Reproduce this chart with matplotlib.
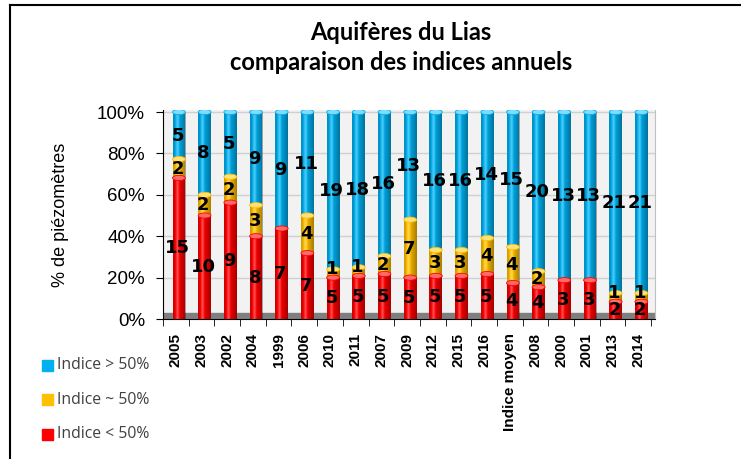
import numpy as np
import matplotlib
matplotlib.use("Agg")
import matplotlib.pyplot as plt
from matplotlib.patches import Rectangle, Ellipse
from matplotlib.lines import Line2D

# categories (sorted by share of low index) and counts of piezometers per class
annees = ["2005", "2003", "2002", "2004", "1999", "2006", "2010", "2011", "2007",
          "2009", "2012", "2015", "2016", "Indice moyen", "2008", "2000", "2001",
          "2013", "2014"]
n_bas = [15, 10, 9, 8, 7, 7, 5, 5, 5, 5, 5, 5, 5, 4, 4, 3, 3, 2, 2]
n_moyen = [2, 2, 2, 3, 0, 4, 1, 1, 2, 7, 3, 3, 4, 4, 2, 0, 0, 1, 1]
n_haut = [5, 8, 5, 9, 9, 11, 19, 18, 16, 13, 16, 16, 14, 15, 20, 13, 13, 21, 21]

series = [("Indice < 50%", n_bas, "#FF0000", "#FF6A6A"),
          ("Indice ~ 50%", n_moyen, "#FFC000", "#FFE07A"),
          ("Indice > 50%", n_haut, "#00B0F0", "#7FDCFF")]

totals = np.array(n_bas) + np.array(n_moyen) + np.array(n_haut)
x = np.arange(len(annees))
shift = 0.12   # bars sit slightly behind the front axis
width = 0.5

fig = plt.figure(figsize=(7.41, 4.59), dpi=100)
ax = fig.add_axes([163 / 741, 1 - 319 / 459, (655 - 163) / 741, 209 / 459])
ax.set_facecolor("#F2F2F2")

# floor of the 3d box
ax.add_patch(Rectangle((-0.5, 0), 19.3, 0.03, color="#7F7F7F", zorder=1))

# horizontal shading for a cylinder look
grad = np.zeros((1, 60, 4))
t = np.linspace(0, 1, 60)
shade = np.where(t < 0.35, (0.35 - t) / 0.35 * 0.2, (t - 0.35) / 0.65 * 0.35)
light = np.clip(1 - np.abs(t - 0.35) / 0.15, 0, 1) * 0.35
grad[0, :, :3] = np.where(light[:, None] > 0, 1.0, 0.0)
grad[0, :, 3] = np.maximum(shade, light)

bottom = np.zeros(len(annees))
for k, (label, counts, color, top_color) in enumerate(series):
    frac = np.array(counts) / totals
    bars = ax.bar(x + shift, frac, width, bottom=bottom, color=color, zorder=2)
    for i, b in enumerate(bars):
        if counts[i] == 0:
            continue
        im = ax.imshow(grad, extent=(b.get_x(), b.get_x() + width, bottom[i], bottom[i] + frac[i]),
                       aspect="auto", zorder=3)
        im.set_clip_path(b)
        ax.add_patch(Ellipse((x[i] + shift, bottom[i] + frac[i]), width, 0.025,
                             color=top_color, ec=color, lw=0.6, zorder=4))
        ty = bottom[i] + frac[i] / 2
        if frac[i] < 0.06:
            # thin segments: spread labels apart
            ty += 0.02 if k > 0 else -0.012
        ax.text(x[i] + shift - 0.05, ty, str(counts[i]),
                ha="center", va="center", fontsize=13, fontweight="bold",
                color="black", zorder=6)
    bottom += frac

ax.set_xlim(-0.5, 18.65)
ax.set_ylim(0, 1.01)
ax.set_yticks([0, 0.2, 0.4, 0.6, 0.8, 1.0])
ax.set_yticklabels(["0%", "20%", "40%", "60%", "80%", "100%"], fontsize=13.5,
                   family="Liberation Sans")
ax.yaxis.grid(True, color="#D0D0D0", lw=1)
ax.set_axisbelow(True)
ax.set_xticks(x)
ax.set_xticklabels(annees, rotation=90, fontsize=11, fontweight="bold",
                   family="Liberation Sans")
ax.set_xticks(np.arange(-0.5, 19, 1), minor=True)
ax.tick_params(axis="x", which="major", length=0, pad=10)
ax.tick_params(axis="x", which="minor", length=5, direction="out")
ax.tick_params(axis="y", length=5, direction="out", pad=8)
ax.spines["top"].set_visible(False)
ax.spines["right"].set_color("#BFBFBF")
ax.set_ylabel("% de piézomètres", fontsize=13, family="Liberation Sans", labelpad=20)

# title
fig.text(401 / 741, 1 - 33 / 459, "Aquifères du Lias", ha="center", va="center",
         fontsize=17, fontweight="bold", family="Lato")
fig.text(401 / 741, 1 - 63 / 459, "comparaison des indices annuels", ha="center", va="center",
         fontsize=17, fontweight="bold", family="Lato")

# legend on the left, top to bottom
for k, (label, counts, color, _) in enumerate(reversed(series)):
    yy = 1 - (365 + 34.5 * k) / 459
    fig.patches.append(Rectangle((42 / 741, yy - 5.5 / 459), 11 / 741, 11 / 459,
                                 color=color, transform=fig.transFigure, figure=fig))
    fig.text(57 / 741, yy, label, ha="left", va="center", fontsize=11.3,
             family="Open Sans", color="#404040")

# chart frame
fig.add_artist(Line2D([10 / 741, 10 / 741], [0, 1 - 5 / 459], color="black", lw=1.5,
                      transform=fig.transFigure))
fig.add_artist(Line2D([10 / 741, 1], [1 - 5 / 459, 1 - 5 / 459], color="black", lw=1.5,
                      transform=fig.transFigure))

fig.savefig("out.png", dpi=100)
